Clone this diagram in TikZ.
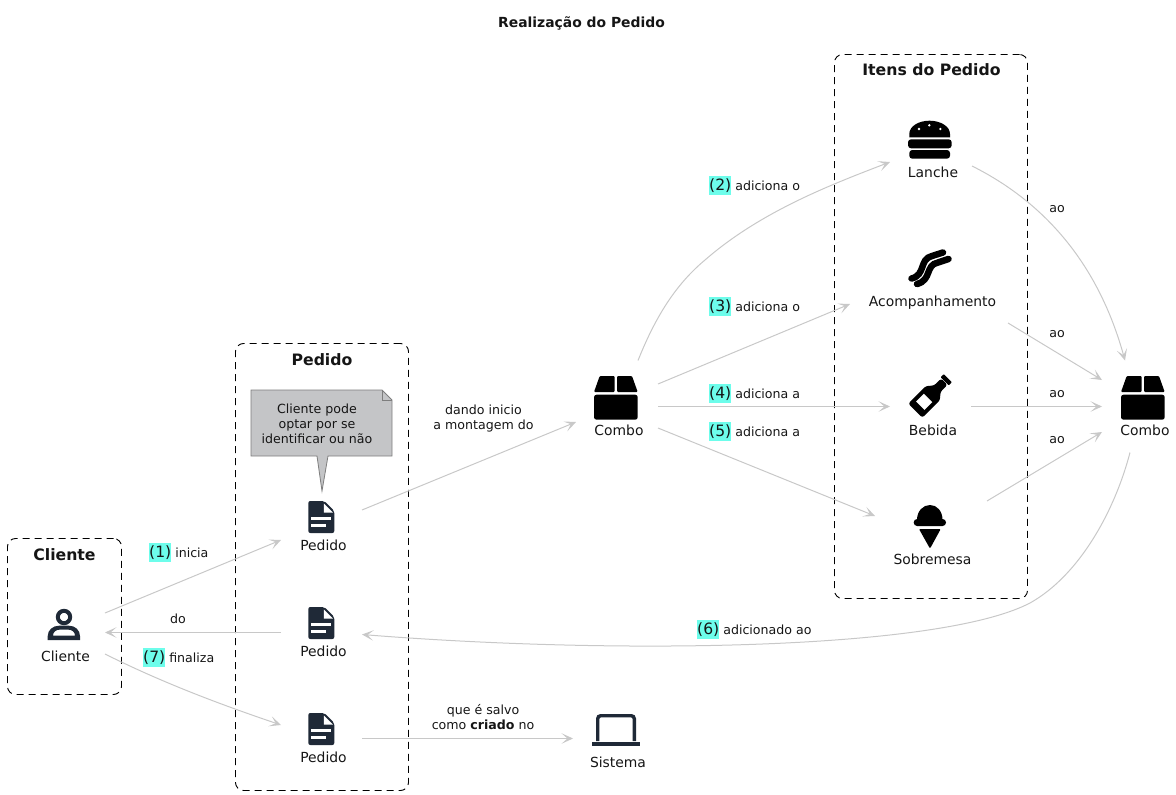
\documentclass[tikz,border=0pt]{standalone}
\usepackage{fontspec}
\setmainfont{DejaVu Sans}
\usetikzlibrary{calc,arrows.meta}
\definecolor{edgec}{HTML}{C8C8C8}
\definecolor{tagc}{HTML}{6DFDEB}
\definecolor{dark}{HTML}{1F2937}
\definecolor{notef}{HTML}{C4C5C7}
\definecolor{notel}{HTML}{7E7E7E}
\definecolor{txt}{HTML}{151515}
\newcommand{\fs}[1]{\fontsize{#1}{#1}\selectfont}
\newcommand{\tagn}[1]{{\setlength{\fboxsep}{0pt}\colorbox{tagc}{\rule[-4.5pt]{0pt}{19pt}\fs{15.6}(#1)}}}
\tikzset{
  x=1pt,y=-1pt,
  every node/.style={text=txt},
  ent/.style n args={2}{minimum width=#1,minimum height=#2,inner sep=0pt,outer sep=0pt},
  group/.style={draw=black,dash pattern=on 7pt off 5pt,rounded corners=8pt,line width=0.9pt},
  gtitle/.style={font=\fs{15.7}\bfseries,inner sep=0pt,anchor=base},
  lbl/.style={font=\fs{13.9},inner sep=0pt,anchor=base},
  elbl/.style={font=\fs{12.6},inner sep=0pt,anchor=base west},
  clbl/.style={font=\fs{12.6},inner sep=0pt,anchor=base,align=center},
  conn/.style={draw=edgec,line width=1pt,-{Stealth[length=11.5pt,width=10.5pt,inset=6pt]}},
  docicon/.pic={
    \fill[dark,rounded corners=2pt] (0,0)--(16,0)--(26,10)--(26,32)--(0,32)--cycle;
    \fill[white] (15.5,2.5)--(15.5,11.5)--(24.5,11.5)--cycle;
    \fill[white] (2.7,16.3) rectangle (22.7,19.3);
    \fill[white] (2.7,22.5) rectangle (17.7,25.7);
  },
  boxicon/.pic={
    \fill[black,rounded corners=1pt] (5.7,0)--(20.7,0)--(20.7,16)--(0,16)--cycle;
    \fill[black,rounded corners=1pt] (23,0)--(38,0)--(43.7,16)--(23,16)--cycle;
    \fill[black,rounded corners=2.5pt] (0,18.7)--(43.7,18.7)--(43.7,43.7)--(0,43.7)--cycle;
  },
}
\begin{document}
\begin{tikzpicture}
\useasboundingbox (0,0) rectangle (1176,795);
% groups
\node[ent={114pt}{156pt},group] (gcliente) at (64.5,616.5) {};
\node[ent={173pt}{447pt},group] (gpedido) at (322,567) {};
\node[ent={193pt}{544pt},group] (gitens) at (931,326.5) {};
\node[gtitle] (tcliente) at (64.5,560) {Cliente};
\node[gtitle] (tpedido) at (322,365) {Pedido};
\node[gtitle] (titens) at (931.5,75) {Itens do Pedido};
\node[font=\fs{13.9}\bfseries,inner sep=0pt,anchor=base] (title) at (581.5,27.5) {Realização do Pedido};
% entity boxes
\node[ent={82pt}{66pt}] (cliente) at (64,632.5) {};
\node[ent={81pt}{66pt}] (pedidoA) at (321.5,527) {};
\node[ent={81pt}{66pt}] (pedidoB) at (321.5,633.5) {};
\node[ent={81pt}{66pt}] (pedidoC) at (321.5,738.5) {};
\node[ent={82pt}{92pt}] (combo) at (617,406.5) {};
\node[ent={82pt}{66pt}] (lanche) at (931,150) {};
\node[ent={158pt}{66pt}] (acomp) at (929,314) {};
\node[ent={81pt}{66pt}] (bebida) at (930.5,406.5) {};
\node[ent={112pt}{66pt}] (sobremesa) at (931,516) {};
\node[ent={82pt}{92pt}] (comboB) at (1143,406.5) {};
\node[ent={82pt}{66pt}] (sistema) at (614,738.5) {};
% entity labels
\node[lbl] (lcliente) at (65.5,661) {Cliente};
\node[lbl] (lpedidoA) at (323.5,550) {Pedido};
\node[lbl] (lpedidoB) at (323.5,656) {Pedido};
\node[lbl] (lpedidoC) at (323.5,762) {Pedido};
\node[lbl] (lcombo) at (619,435) {Combo};
\node[lbl] (llanche) at (933,177) {Lanche};
\node[lbl] (lacomp) at (932.5,306) {Acompanhamento};
\node[lbl] (lbebida) at (933,435) {Bebida};
\node[lbl] (lsobremesa) at (932.5,564) {Sobremesa};
\node[lbl] (lcomboB) at (1145,435) {Combo};
\node[lbl] (lsistema) at (618,767) {Sistema};
% icons
\pic at (308.3,501) {docicon};
\pic at (308.3,607) {docicon};
\pic at (308.3,713) {docicon};
\pic at (594,376) {boxicon};
\pic at (1121,376) {boxicon};
% person
\draw[dark,line width=4pt] (64,617) circle (6.2);
\fill[dark,even odd rule] (47.7,640)--(47.7,636) .. controls (47.7,630) and (53,625.7) .. (59,625.7)--(69,625.7) .. controls (75,625.7) and (80,630) .. (80,636)--(80,640)--cycle
 (53,635.6) .. controls (53,632) and (56,629.6) .. (60,629.6)--(68,629.6) .. controls (72,629.6) and (75,632) .. (75,635.6)--cycle;
% laptop
\draw[dark,line width=3.4pt,rounded corners=3pt] (597.7,741)--(597.7,715.7)--(634.3,715.7)--(634.3,741);
\fill[dark] (592,741.8) rectangle (640,746);
% burger
\fill[black] (909.3,137.3)--(909.3,134) .. controls (909.3,126) and (919,120.7) .. (929.5,120.7) .. controls (940,120.7) and (950,126) .. (950,134)--(950,137.3)--cycle;
\fill[white] (919,129) circle (1.3) (929.3,125.3) circle (1.3) (940.3,129) circle (1.3);
\fill[black,rounded corners=3pt] (908,139.3) rectangle (951.7,148.3);
\fill[black,rounded corners=3pt] (909.3,150) rectangle (950,158.7);
% bacon
\draw[black,line width=6.5pt,line cap=round] (911.5,278.5) .. controls (926,275) and (919,259) .. (932,256) -- (943,252.5);
\draw[black,line width=6.5pt,line cap=round] (917,284) .. controls (932,280) and (925,265) .. (938,262.5) -- (948.5,259);
% bottle
\begin{scope}[shift={(915.3,410.7)},rotate=45]
\fill[black,rounded corners=2.5pt] (0,-10)--(25,-10)--(31,-4.5)--(41,-4.5)--(41,4.5)--(31,4.5)--(25,10)--(0,10)--cycle;
\fill[black,rounded corners=0.8pt] (41.5,-5.8) rectangle (46,5.8);
\fill[white] (7,-6) rectangle (18,6);
\end{scope}
% ice cream
\fill[black] (917,520) .. controls (917,511) and (923,505) .. (930,505) .. controls (937,505) and (942.5,511) .. (942.5,520)--cycle;
\fill[black,rounded corners=3.4pt] (913.7,519) rectangle (946,526);
\fill[black,rounded corners=1pt] (919,529)--(940.7,529)--(930,548.6)--cycle;
% note
\node[ent={141pt}{66pt}] (note) at (321.5,423) {};
\path[fill=notef,draw=notel,line width=0.8pt] (note.north west)--($(note.north east)+(-10,0)$)--($(note.north east)+(0,10)$)--(note.south east)--($(note.south)+(6.5,0)$)--(322,491)--($(note.south)+(-4.5,0)$)--(note.south west)--cycle;
\path[draw=notel,line width=0.8pt] ($(note.north east)+(-10,0)$)--($(note.north east)+(-10,10)$)--($(note.north east)+(0,10)$);
\node[font=\fs{12.6},inner sep=0pt,align=center,anchor=base] (notetext) at (317,443) {Cliente pode\\[2.4pt]optar por se\\[2.4pt]identificar ou não};
% connectors
\draw[conn] ($(cliente.east)+(0,-19.5)$) -- ($(pedidoA.west)+(0,13)$);
\draw[conn] ($(pedidoB.west)+(0,-1)$) -- (cliente.east);
\draw[conn] ($(cliente.east)+(0,21.5)$) .. controls (165,684) and (225,706) .. ($(pedidoC.west)+(0,-13.5)$);
\draw[conn] ($(pedidoA.east)+(0,-17)$) -- ($(combo.west)+(0,15.5)$);
\draw[conn] (pedidoC.east) -- (sistema.west);
\draw[conn] ($(combo.north)+(21,0)$) .. controls (655,318) and (675,285) .. (705,260) .. controls (760,212) and (830,185) .. ($(lanche.west)+(0,12)$);
\draw[conn] ($(combo.east)+(0,-22.5)$) -- ($(acomp.west)+(0,-10)$);
\draw[conn] (combo.east) -- (bebida.west);
\draw[conn] ($(combo.east)+(0,21.5)$) -- (sobremesa.west);
\draw[conn] ($(lanche.east)+(0,16)$) .. controls (1050,205) and (1100,270) .. ($(comboB.north)+(-18,0)$);
\draw[conn] ($(acomp.east)+(0,9)$) -- ($(comboB.west)+(0,-26.5)$);
\draw[conn] (bebida.east) -- (comboB.west);
\draw[conn] ($(sobremesa.east)+(0,-15)$) -- ($(comboB.west)+(0,25.5)$);
\draw[conn] ($(comboB.south)+(-13,0)$) .. controls (1115,510) and (1080,575) .. (1030,603) .. controls (940,650) and (620,655) .. ($(pedidoB.east)+(0,1)$);
% connector labels
\node[elbl] (e1) at (149,557) {\tagn{1} inicia};
\node[clbl] (e2) at (178,623.5) {do};
\node[elbl] (e7) at (143,662) {\tagn{7} finaliza};
\node[clbl] (e3) at (483.5,429.5) {dando inicio\\[2.4pt]a montagem do};
\node[clbl] (e4) at (483,729) {que é salvo\\[2.4pt]como \textbf{criado} no};
\node[elbl] (f2) at (709,190) {\tagn{2} adiciona o};
\node[elbl] (f3) at (709,311) {\tagn{3} adiciona o};
\node[elbl] (f4) at (709,398) {\tagn{4} adiciona a};
\node[elbl] (f5) at (709,436) {\tagn{5} adiciona a};
\node[elbl] (f6) at (697,634) {\tagn{6} adicionado ao};
\node[clbl] (a1) at (1057,212) {ao};
\node[clbl] (a2) at (1057,337) {ao};
\node[clbl] (a3) at (1057,397.5) {ao};
\node[clbl] (a4) at (1057,443) {ao};
\end{tikzpicture}
\end{document}
